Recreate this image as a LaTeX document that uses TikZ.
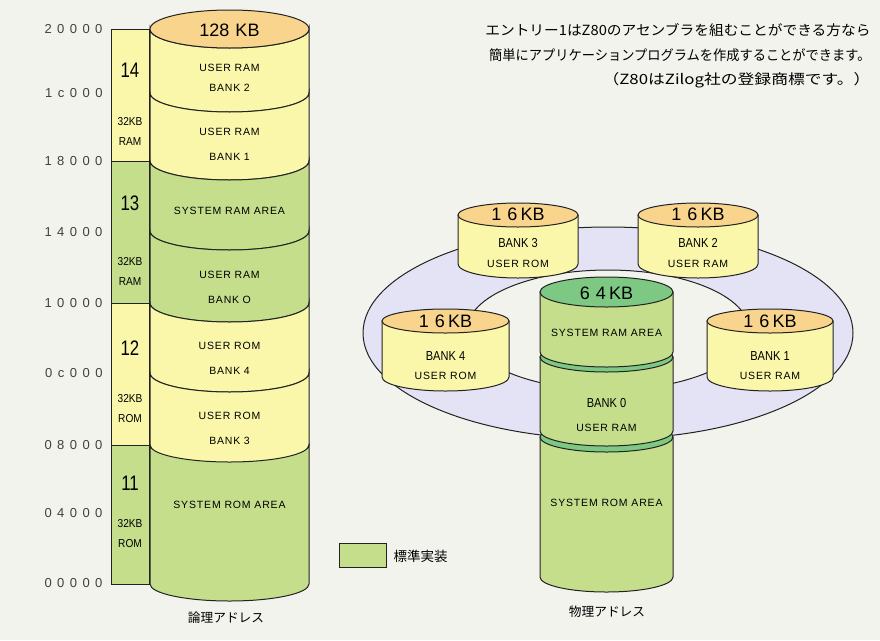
\documentclass[tikz,border=0pt]{standalone}
\usepackage{fontspec}
\setmainfont{Liberation Sans}
\newfontfamily\jp{Noto Sans CJK JP}
\newfontfamily\addrf[LetterSpace=42]{Liberation Sans}
\newfontfamily\lblf[LetterSpace=8]{Liberation Sans}
\definecolor{bgc}{HTML}{F3F3EE}
\definecolor{yel}{HTML}{FAF7AA}
\definecolor{grn}{HTML}{C4DE8C}
\definecolor{peach}{HTML}{F8D48C}
\definecolor{dgrn}{HTML}{7DC882}
\definecolor{lav}{HTML}{E4E3F5}
\definecolor{ink}{HTML}{222222}
% section of a cylinder: fill, cx, rx, ry, ytop, ybottom
\newcommand\cylsec[6]{\filldraw[fill=#1] (#2-#3,#5) -- (#2-#3,#6) arc[start angle=180,end angle=0,x radius=#3,y radius=#4] -- (#2+#3,#5) arc[start angle=0,end angle=180,x radius=#3,y radius=#4] -- cycle;}
% cylinder body with flat top (top ellipse drawn separately): fill, cx, rx, ry, ytop, ybottom
\newcommand\cylbody[6]{\filldraw[fill=#1] (#2-#3,#5) -- (#2-#3,#6) arc[start angle=180,end angle=0,x radius=#3,y radius=#4] -- (#2+#3,#5) -- cycle;}
\begin{document}
\begin{tikzpicture}[x=1pt,y=-1pt,line width=1pt,draw=ink,
  addr/.style={font=\addrf\fontsize{13}{14}\selectfont,text=black!75,anchor=east,inner sep=0},
  bignum/.style={font=\fontsize{21}{22}\selectfont,xscale=0.8,inner sep=0},
  smlbl/.style={font=\fontsize{11.5}{12}\selectfont,xscale=0.88,inner sep=0},
  lbl/.style={font=\lblf\fontsize{10.5}{11}\selectfont,inner sep=0},
  kb/.style={font=\fontsize{18}{19}\selectfont,inner sep=0},
  bank/.style={font=\fontsize{13}{14}\selectfont,xscale=0.85,inner sep=0},
  jptext/.style={font=\jp\fontsize{14}{15}\selectfont,anchor=east,inner sep=0},
  jplbl/.style={font=\jp\fontsize{12.7}{13}\selectfont,inner sep=0}]
\useasboundingbox[fill=bgc] (0,0) rectangle (880,640);

% ---------- top-right text
\node[jptext,xscale=1.05] (t1) at (871,30) {エントリー1はZ80のアセンブラを組むことができる方なら};
\node[jptext,xscale=0.945] (t2) at (871,55) {簡単にアプリケーションプログラムを作成することができます。};
\node[jptext,xscale=1.2] (t3) at (871,80) {（Z80はZilog社の登録商標です。）};

% ---------- address labels
\node[addr] (a1) at (103,29) {20000};
\node[addr] (a2) at (103,93) {1c000};
\node[addr] (a3) at (103,161) {18000};
\node[addr] (a4) at (103,232) {14000};
\node[addr] (a5) at (103,303) {10000};
\node[addr] (a6) at (103,373) {0c000};
\node[addr] (a7) at (103,445) {08000};
\node[addr] (a8) at (103,513) {04000};
\node[addr] (a9) at (103,583) {00000};

% ---------- narrow bar
\filldraw[fill=yel] (111,29) rectangle (149,161);
\filldraw[fill=grn] (111,161) rectangle (149,303);
\filldraw[fill=yel] (111,303) rectangle (149,445);
\filldraw[fill=grn] (111,445) rectangle (149,584);
\node[bignum] (n14) at (130,70) {14};
\node[smlbl] (n14a) at (130,122) {32KB};
\node[smlbl] (n14b) at (130,142) {RAM};
\node[bignum] (n13) at (130,203) {13};
\node[smlbl] (n13a) at (130,262) {32KB};
\node[smlbl] (n13b) at (130,282) {RAM};
\node[bignum] (n12) at (130,348) {12};
\node[smlbl] (n12a) at (130,399) {32KB};
\node[smlbl] (n12b) at (130,419) {ROM};
\node[bignum] (n11) at (130,483) {11};
\node[smlbl] (n11a) at (130,524) {32KB};
\node[smlbl] (n11b) at (130,544) {ROM};

% ---------- logical cylinder
\cylsec{yel}{229.5}{79.5}{19}{29}{93}
\cylsec{yel}{229.5}{79.5}{19}{93}{161}
\cylsec{grn}{229.5}{79.5}{19}{161}{231}
\cylsec{grn}{229.5}{79.5}{19}{231}{303}
\cylsec{yel}{229.5}{79.5}{19}{303}{373}
\cylsec{yel}{229.5}{79.5}{19}{373}{445}
\cylsec{grn}{229.5}{79.5}{17}{445}{584}
\filldraw[fill=peach] (229.5,29) ellipse[x radius=79.5,y radius=19];
\node[kb] (l128) at (229.5,30) {128\,\,KB};
\node[lbl] (lb2a) at (229.5,68) {USER RAM};
\node[lbl] (lb2b) at (229.5,88) {BANK\,\,2};
\node[lbl] (lb1a) at (229.5,132) {USER RAM};
\node[lbl] (lb1b) at (229.5,157) {BANK\,\,1};
\node[lbl] (lsra) at (229.5,211) {SYSTEM RAM AREA};
\node[lbl] (lb0a) at (229.5,275) {USER RAM};
\node[lbl] (lb0b) at (229.5,300) {BANK\,\,O};
\node[lbl] (lb4a) at (229.5,346) {USER ROM};
\node[lbl] (lb4b) at (229.5,371) {BANK\,\,4};
\node[lbl] (lb3a) at (229.5,416) {USER ROM};
\node[lbl] (lb3b) at (229.5,441) {BANK\,\,3};
\node[lbl] (lsro) at (229.5,505) {SYSTEM ROM AREA};
\node[jplbl] (logaddr) at (226,618) {論理アドレス};

% ---------- legend
\node[draw,fill=grn,minimum width=47,minimum height=24,inner sep=0] (legbox) at (362.5,555) {};
\node[jplbl,anchor=west,font=\jp\fontsize{13.5}{14}\selectfont] (legtxt) at (393,556) {標準実装};

% ---------- physical: ring
\filldraw[fill=lav] (608,333) ellipse[x radius=245,y radius=106];
\filldraw[fill=bgc] (608,330) ellipse[x radius=141,y radius=60];

% back small cylinders
\cylbody{yel}{518}{60}{14}{215}{264}
\filldraw[fill=peach] (518,215) ellipse[x radius=60,y radius=12];
\node[kb] (k3) at (518,214) {1\,\,6\,KB};
\node[bank] (b3) at (518,243) {BANK 3};
\node[lbl] (u3) at (518,264) {USER ROM};

\cylbody{yel}{698}{60}{14}{215}{264}
\filldraw[fill=peach] (698,215) ellipse[x radius=60,y radius=12];
\node[kb] (k2) at (698,214) {1\,\,6\,KB};
\node[bank] (b2) at (698,243) {BANK 2};
\node[lbl] (u2) at (698,264) {USER RAM};

% front small cylinders
\cylbody{yel}{445.5}{63.5}{14}{321}{377}
\filldraw[fill=peach] (445.5,321) ellipse[x radius=63.5,y radius=12];
\node[kb] (k4) at (445.5,321) {1\,\,6\,KB};
\node[bank] (b4) at (445.5,356) {BANK 4};
\node[lbl] (u4) at (445.5,376) {USER ROM};

\cylbody{yel}{770}{63}{14}{321}{377}
\filldraw[fill=peach] (770,321) ellipse[x radius=63,y radius=12];
\node[kb] (k1) at (770,321) {1\,\,6\,KB};
\node[bank] (b1) at (770,356) {BANK 1};
\node[lbl] (u1) at (770,376) {USER RAM};

% center stacked cylinder
\cylbody{grn}{606.5}{66.5}{15}{437}{577}
\filldraw[fill=dgrn] (606.5,437) ellipse[x radius=66.5,y radius=15];
\cylbody{grn}{606.5}{66.5}{15}{357}{431}
\filldraw[fill=dgrn] (606.5,357) ellipse[x radius=66.5,y radius=15];
\cylbody{grn}{606.5}{66.5}{15}{292}{352}
\filldraw[fill=dgrn] (606.5,292) ellipse[x radius=66.5,y radius=15];
\node[kb] (k64) at (606.5,293) {6\,\,4\,KB};
\node[lbl] (csra) at (606.5,333) {SYSTEM RAM AREA};
\node[bank] (cb0) at (606.5,403) {BANK 0};
\node[lbl] (cu0) at (606.5,428) {USER RAM};
\node[lbl] (csro) at (606.5,503) {SYSTEM ROM AREA};
\node[jplbl] (phyaddr) at (607,612) {物理アドレス};
\end{tikzpicture}
\end{document}
